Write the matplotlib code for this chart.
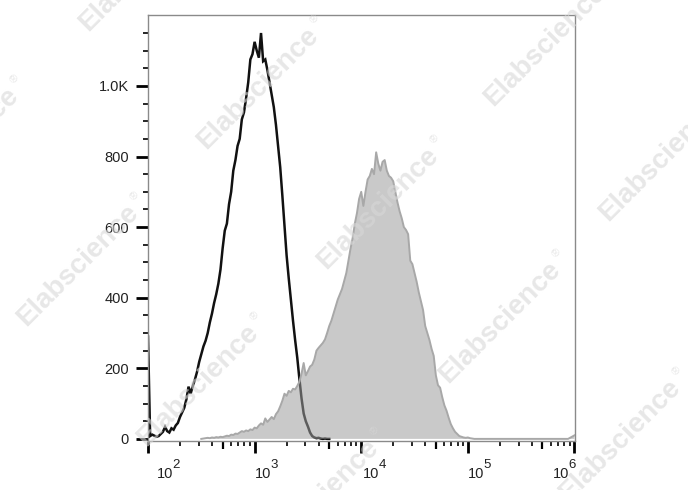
import numpy as np
import matplotlib
matplotlib.use('Agg')
import matplotlib.pyplot as plt
from matplotlib.transforms import ScaledTranslation, blended_transform_factory
from matplotlib.ticker import FixedLocator, NullFormatter

plt.rcParams['font.family'] = ['Liberation Sans', 'DejaVu Sans']

# ---------------- data ----------------
# control (unstained / isotype) histogram: log10(fluorescence) bins and counts
ctrl_log_x = np.round(np.arange(2.00, 3.7001, 0.02), 2)
ctrl_counts = [
    290, 8, 12, 9, 6, 8, 14, 20, 34, 22,
    18, 30, 26, 38, 45, 62, 75, 88, 112, 148,
    128, 150, 168, 190, 218, 240, 262, 278, 300, 330,
    355, 385, 410, 440, 480, 540, 590, 610, 665, 700,
    760, 790, 830, 850, 905, 925, 965, 1010, 1075, 1090,
    1125, 1100, 1080, 1150, 1070, 1075, 1045, 1010, 975, 940,
    890, 830, 770, 690, 605, 520, 455, 395, 335, 280,
    230, 170, 115, 72, 50, 35, 18, 8, 4, 2,
    3, 1, 0, 1, 0, 0,
]

# stained sample histogram (filled grey)
stain_log_x = list(np.round(np.arange(2.50, 5.0601, 0.02), 2)) + [5.94, 5.97, 6.00]
stain_counts = [
    0, 1, 2, 3, 2, 4, 3, 5, 4, 6,
    5, 7, 9, 8, 12, 11, 15, 14, 18, 22,
    20, 24, 22, 27, 25, 32, 30, 38, 44, 40,
    58, 48, 55, 62, 56, 70, 78, 92, 108, 128,
    122, 136, 132, 142, 140, 150, 162, 185, 215, 180,
    192, 205, 210, 225, 250, 258, 265, 272, 282, 300,
    320, 335, 355, 375, 395, 410, 425, 448, 470, 505,
    540, 570, 610, 640, 680, 700, 660, 700, 735, 745,
    765, 750, 812, 780, 760, 785, 790, 760, 745, 740,
    730, 700, 670, 645, 625, 600, 592, 580, 505, 495,
    470, 445, 415, 390, 365, 320, 300, 280, 255, 235,
    180, 152, 145, 118, 95, 80, 60, 42, 30, 20,
    14, 8, 6, 4, 3, 4, 2, 1, 0,
    0, 5, 10,
]

x_decades = [2, 3, 4, 5, 6]
x_tick_base = ['10', '10', '10', '10', '10']
x_tick_exp = ['2', '3', '4', '5', '6']
y_major = [0, 200, 400, 600, 800, 1000]
y_labels = ['0', '200', '400', '600', '800', '1.0K']
y_minor = [50, 100, 150, 250, 300, 350, 450, 500, 550, 650, 700, 750,
           850, 900, 950, 1050, 1100, 1150]
watermark_text = 'Elabscience'

# ---------------- figure ----------------
W, H = 688, 490
fig = plt.figure(figsize=(W / 100, H / 100), dpi=100)
ax = fig.add_axes([148 / W, 1 - 441 / H, 427 / W, 426 / H])

cx = 10 ** ctrl_log_x
sx = 10 ** np.array(stain_log_x)

ax.plot(cx, ctrl_counts, color='#111111', lw=1.8, zorder=2, solid_joinstyle='miter')
ax.fill_between(sx, 0, stain_counts, facecolor=(0.61, 0.61, 0.61), alpha=0.545,
                edgecolor='none', zorder=3)
ax.plot(sx, stain_counts, color='#a8a8a8', lw=1.4, zorder=4)

ax.set_xscale('log')
ax.set_xlim(10 ** 2.0, 10 ** 6.005)
ax.set_ylim(-6, 1201)

# spines
for s in ax.spines.values():
    s.set_color('#8a8a8a')
    s.set_linewidth(1.0)

# x ticks
ax.xaxis.set_major_locator(FixedLocator([10 ** k for k in x_decades]))
minor_x = [m * 10 ** k for k in x_decades[:-1] for m in (2, 3, 4, 6, 7, 8, 9)]
ax.xaxis.set_minor_locator(FixedLocator(minor_x))
ax.xaxis.set_major_formatter(NullFormatter())
ax.xaxis.set_minor_formatter(NullFormatter())
ax.tick_params(axis='x', which='major', length=8.6, width=2.0, color='black', direction='out')
ax.tick_params(axis='x', which='minor', length=3.6, width=1.2, color='black', direction='out')

sec = ax.secondary_xaxis('bottom')
sec.set_xscale('log')
sec.xaxis.set_major_locator(FixedLocator([5 * 10 ** k for k in x_decades[:-1]]))
sec.xaxis.set_minor_locator(FixedLocator([]))
sec.xaxis.set_major_formatter(NullFormatter())
sec.tick_params(axis='x', which='major', length=5.8, width=1.6, color='black', direction='out')
for s in sec.spines.values():
    s.set_visible(False)

# x tick labels (10 with raised exponent)
trans = blended_transform_factory(ax.transData, ax.transAxes)
base_dx = [9, 0.5, 2, 0.5, -22]
for k, b, e, dx in zip(x_decades, x_tick_base, x_tick_exp, base_dx):
    t1 = trans + ScaledTranslation(dx / 100, -37 / 100, fig.dpi_scale_trans)
    ax.text(10 ** k, 0, b, transform=t1, ha='left', va='baseline', fontsize=10.5,
            color='#222222', clip_on=False)
    t2 = trans + ScaledTranslation((dx + 15.5) / 100, -27 / 100, fig.dpi_scale_trans)
    ax.text(10 ** k, 0, e, transform=t2, ha='left', va='baseline', fontsize=9.5,
            color='#222222', clip_on=False)

# y ticks
ax.yaxis.set_major_locator(FixedLocator(y_major))
ax.yaxis.set_minor_locator(FixedLocator(y_minor))
ax.set_yticklabels(y_labels)
ax.tick_params(axis='y', which='major', length=8.6, width=2.0, color='black',
               direction='out', pad=5, labelsize=10.5, labelcolor='#222222')
ax.tick_params(axis='y', which='minor', length=3.6, width=1.2, color='black', direction='out')

# watermarks
wm_centers = [(425, -72), (545, 45), (660, 160), (780, 275),
              (140, -30), (258, 88), (378, 208), (500, 322), (620, 440),
              (-42, 148), (78, 265), (198, 385), (318, 500)]
for (px, py) in wm_centers:
    fig.text(px / W, 1 - py / H, watermark_text, rotation=45, ha='center', va='center',
             fontsize=20, fontweight='bold', color='#d8d8d8', alpha=0.6, zorder=20,
             rotation_mode='anchor')
    rx, ry = px + 57, py - 69
    fig.text(rx / W, 1 - ry / H, '®', rotation=45, ha='center', va='center',
             fontsize=8, color='#d8d8d8', alpha=0.6, zorder=20, rotation_mode='anchor')

fig.savefig('out.png', dpi=100)
